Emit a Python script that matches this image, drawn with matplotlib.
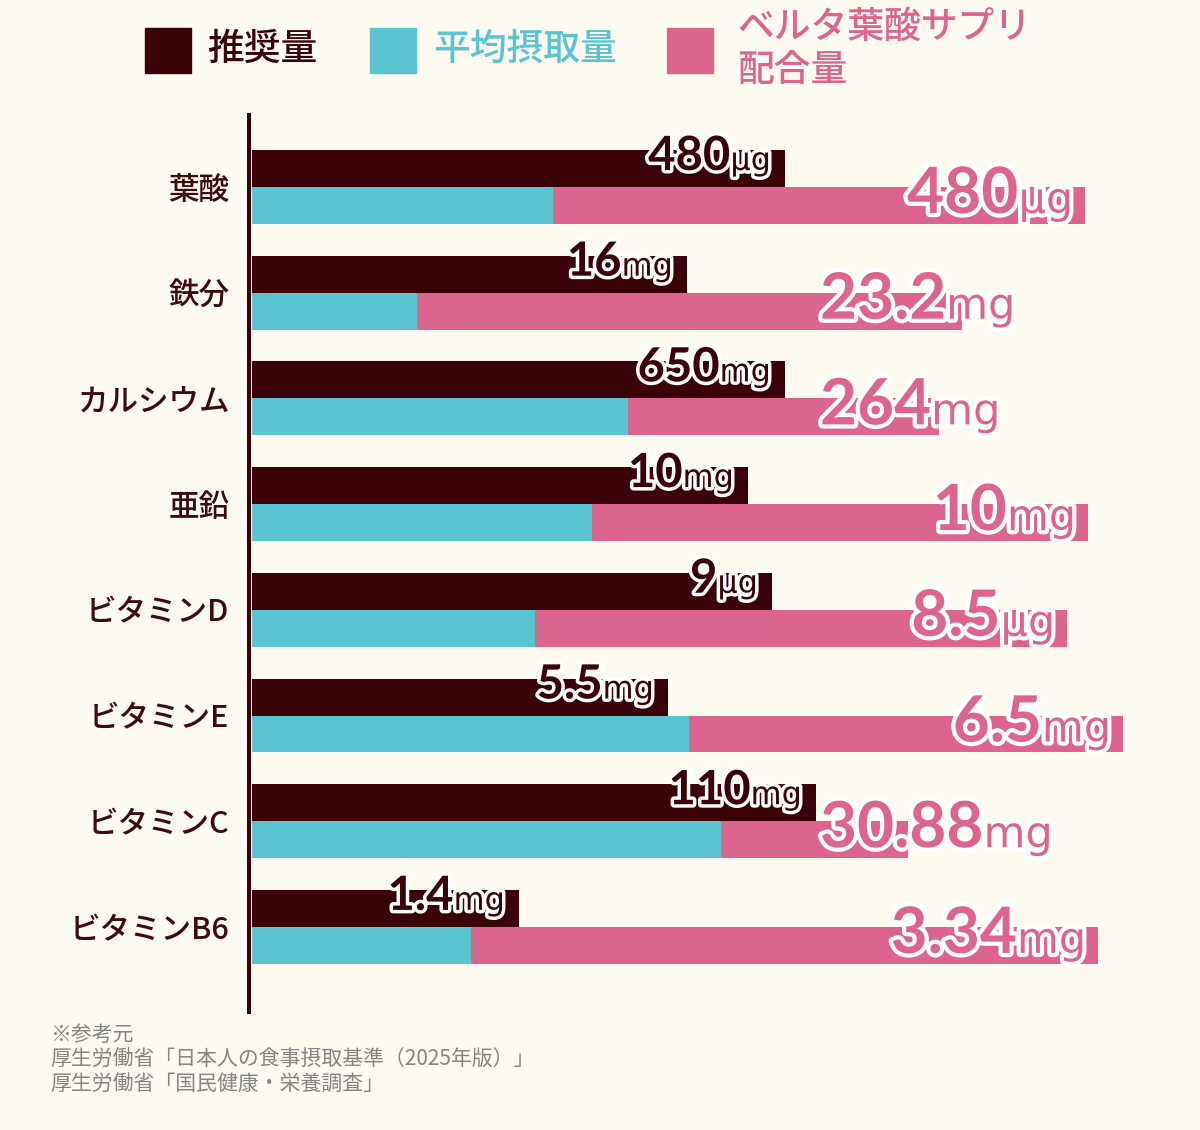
import numpy as np
import matplotlib
matplotlib.use('Agg')
import matplotlib.pyplot as plt
from matplotlib import patheffects as pe
from matplotlib.patches import Rectangle
from matplotlib.transforms import IdentityTransform

plt.rcParams['font.family'] = ['Noto Sans CJK JP', 'DejaVu Sans']

# ------ data (bar lengths, in chart units)
categories = ['葉酸', '鉄分', 'カルシウム', '亜鉛', 'ビタミンD', 'ビタミンE', 'ビタミンC', 'ビタミンB6']
rec_len = [533, 435, 533, 496, 520, 416, 564, 267]     # 推奨量
avg_len = [301, 165, 376, 340, 283, 437, 469, 219]     # 平均摂取量
sup_len = [532, 545, 311, 496, 532, 434, 187, 627]     # サプリ (stacked after avg)

rec_num = ['480', '16', '650', '10', '9', '5.5', '110', '1.4']
rec_unit = ['μg', 'mg', 'mg', 'mg', 'μg', 'mg', 'mg', 'mg']
sup_num = ['480', '23.2', '264', '10', '8.5', '6.5', '30.88', '3.34']
sup_unit = ['μg', 'mg', 'mg', 'mg', 'μg', 'mg', 'mg', 'mg']

legend_labels = ['推奨量', '平均摂取量', 'ベルタ葉酸サプリ\n配合量']
notes = ['※参考元',
         '厚生労働省「日本人の食事摂取基準（2025年版）」',
         '厚生労働省「国民健康・栄養調査」']

# ------ style
BG = '#fcfaf1'
DARK = '#3a0208'
CYAN = '#5bc4d1'
PINK = '#dc6590'
NUM_FONT = ['Lato', 'DejaVu Sans']
UNIT_FONT = ['Liberation Sans Narrow', 'DejaVu Sans']

W, H = 1200, 1130
fig = plt.figure(figsize=(W / 100, H / 100), dpi=100, facecolor=BG)
ax = fig.add_axes([249 / W, 1 - 1012 / H, 901 / W, 897 / H])
ax.set_facecolor(BG)

n = len(categories)
y = np.arange(n)
hb = 0.35
ax.barh(y - hb / 2, rec_len, height=hb, color=DARK)
ax.barh(y + hb / 2, avg_len, height=hb, color=CYAN)
ax.barh(y + hb / 2, sup_len, left=avg_len, height=hb, color=PINK)

ax.set_xlim(-3, 898)
ax.set_ylim(7.805, -0.681)
for s in ['top', 'right', 'bottom']:
    ax.spines[s].set_visible(False)
ax.spines['left'].set_color(DARK)
ax.spines['left'].set_linewidth(2.9)
ax.set_xticks([])
ax.set_yticks(y)
ax.set_yticklabels(categories, fontsize=22, fontweight=500, color='#3d0a0e')
ax.tick_params(axis='y', length=0, pad=14)

renderer = fig.canvas.get_renderer()
ident = IdentityTransform()


def put_label(x_right, yc, num, unit, size_num, size_unit, color, stroke, min_left=None):
    eff = [pe.withStroke(linewidth=stroke, foreground='white')]
    digit_h = 0.72 * size_num * 100 / 72
    yb = yc - digit_h / 2
    ut = fig.text(x_right, yb, unit, transform=ident, ha='right', va='baseline',
                  fontsize=size_unit, color=color, family=UNIT_FONT, path_effects=eff)
    uw = ut.get_window_extent(renderer).width
    nt = fig.text(x_right - uw, yb, num, transform=ident, ha='right', va='baseline',
                  fontsize=size_num, fontweight='bold', color=color, family=NUM_FONT,
                  path_effects=eff)
    nw = nt.get_window_extent(renderer).width
    left = x_right - uw - nw
    if min_left is not None and left < min_left:
        d = min_left - left
        ut.set_x(x_right + d)
        nt.set_x(x_right - uw + d)


for i in range(n):
    cx = ax.transData.transform((0, i))[1]
    x_rec = ax.transData.transform((rec_len[i], 0))[0]
    x_sup = ax.transData.transform((avg_len[i] + sup_len[i], 0))[0]
    put_label(x_rec - 14, cx + 34, rec_num[i], rec_unit[i], 34, 23, DARK, 5)
    put_label(x_sup - 12, cx - 3, sup_num[i], sup_unit[i], 46, 31, PINK, 6, min_left=820)

# ------ legend
leg_colors = [DARK, CYAN, PINK]
box_x = [145, 370, 667]
text_x = [207, 433, 737]
for c, bx, tx, lab in zip(leg_colors, box_x, text_x, legend_labels):
    fig.add_artist(Rectangle((bx, H - 73), 46, 45, transform=ident, color=c))
    fig.text(tx, H - 49, lab, transform=ident, va='center', ha='left',
             fontsize=26.5, fontweight=500, color=c, linespacing=1.2)

# ------ footnote
for k, line in enumerate(notes):
    fig.text(50, H - 1035 - 25 * k, line, transform=ident, va='center', ha='left',
             fontsize=15, color='#858585')

fig.savefig('out.png', dpi=100, facecolor=BG)
